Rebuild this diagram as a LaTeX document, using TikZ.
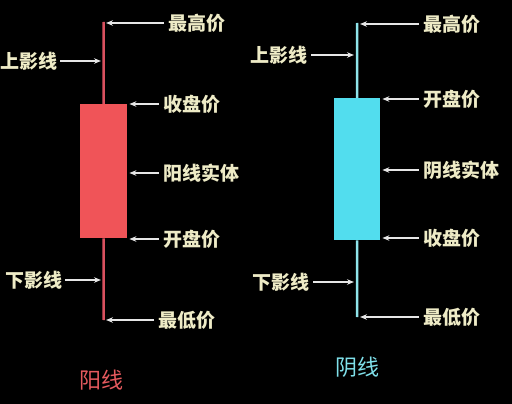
\documentclass[tikz,border=0pt]{standalone}
\usepackage{fontspec}
\newfontfamily\cjk{Noto Sans CJK SC}
\usetikzlibrary{arrows.meta}
\definecolor{labelcol}{HTML}{EEEBC6}
\definecolor{arrowcol}{HTML}{E6E6E6}
\definecolor{redbody}{HTML}{F05458}
\definecolor{redwick}{HTML}{D8505E}
\definecolor{cyanbody}{HTML}{52DDEE}
\definecolor{cyanwick}{HTML}{8FE4EA}
\definecolor{redtitle}{HTML}{E65A5E}
\definecolor{cyantitle}{HTML}{7FE0EA}
\begin{document}
\begin{tikzpicture}[x=1pt,y=-1pt,
  lbl/.style={font=\cjk\bfseries\fontsize{19}{19}\selectfont, text=labelcol, inner sep=0pt, anchor=west},
  ttl/.style={font=\cjk\fontsize{22}{22}\selectfont, inner sep=0pt},
  ptr/.style={draw=arrowcol, line width=1.3pt, -{Stealth[length=7pt,width=5.5pt]}},
  body/.style={rectangle, inner sep=0pt, anchor=north west}]
\fill[black] (0,0) rectangle (512,404);
\useasboundingbox (0,0) rectangle (512,404);

% ---------- left candle (yang) ----------
\node[body, fill=redbody, minimum width=47pt, minimum height=134pt] (Lbody) at (80,104) {};
\coordinate (Lhigh) at (103.5,22);
\coordinate (Llow) at (103.5,320);
\draw[redwick, line width=2.5pt] (Lhigh) -- (Lbody.north);
\draw[redwick, line width=2.5pt] (Lbody.south) -- (Llow);
\coordinate (LxR) at (106,0);
\coordinate (LxL) at (101,0);

\node[lbl] (LH) at (168,23) {最高价};
\node[lbl] (LU) at (0,61) {上影线};
\node[lbl] (LC) at (163,104) {收盘价};
\node[lbl] (LB) at (163,173) {阳线实体};
\node[lbl] (LO) at (163,239) {开盘价};
\node[lbl] (LD) at (5,280) {下影线};
\node[lbl] (LL) at (158,320) {最低价};

\draw[ptr] ([xshift=-4pt]LH.west) -- (LxR |- LH.west);
\draw[ptr] ([xshift=3pt]LU.east) -- (LxL |- LU.east);
\draw[ptr] ([xshift=-4pt]LC.west) -- ([xshift=2pt]Lbody.east |- LC.west);
\draw[ptr] ([xshift=-4pt]LB.west) -- ([xshift=2pt]Lbody.east |- LB.west);
\draw[ptr] ([xshift=-4pt]LO.west) -- ([xshift=2pt]Lbody.east |- LO.west);
\draw[ptr] ([xshift=3pt]LD.east) -- (LxL |- LD.east);
\draw[ptr] ([xshift=-4pt]LL.west) -- (LxR |- LL.west);

\node[ttl, text=redtitle] (LT) at (101,380) {阳线};

% ---------- right candle (yin) ----------
\node[body, fill=cyanbody, minimum width=46pt, minimum height=142pt] (Rbody) at (334,98) {};
\coordinate (Rhigh) at (357,23);
\coordinate (Rlow) at (357,317);
\draw[cyanwick, line width=2.5pt] (Rhigh) -- (Rbody.north);
\draw[cyanwick, line width=2.5pt] (Rbody.south) -- (Rlow);
\coordinate (RxR) at (360,0);
\coordinate (RxL) at (354,0);

\node[lbl] (RH) at (423,24) {最高价};
\node[lbl] (RU) at (250,55) {上影线};
\node[lbl] (RO) at (423,99) {开盘价};
\node[lbl] (RB) at (423,170) {阴线实体};
\node[lbl] (RC) at (423,238) {收盘价};
\node[lbl] (RD) at (252,282) {下影线};
\node[lbl] (RL) at (423,317) {最低价};

\draw[ptr] ([xshift=-4pt]RH.west) -- (RxR |- RH.west);
\draw[ptr] ([xshift=4pt]RU.east) -- (RxL |- RU.east);
\draw[ptr] ([xshift=-4pt]RO.west) -- ([xshift=2pt]Rbody.east |- RO.west);
\draw[ptr] ([xshift=-4pt]RB.west) -- ([xshift=2pt]Rbody.east |- RB.west);
\draw[ptr] ([xshift=-4pt]RC.west) -- ([xshift=2pt]Rbody.east |- RC.west);
\draw[ptr] ([xshift=4pt]RD.east) -- (RxL |- RD.east);
\draw[ptr] ([xshift=-4pt]RL.west) -- (RxR |- RL.west);

\node[ttl, text=cyantitle] (RT) at (357,367) {阴线};
\end{tikzpicture}
\end{document}
